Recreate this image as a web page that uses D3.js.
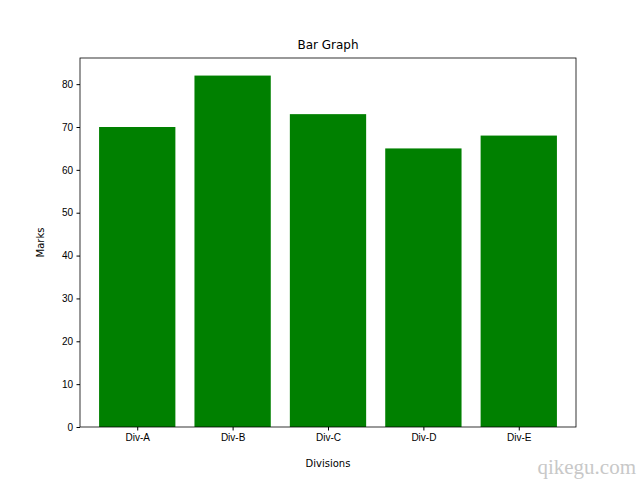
<!DOCTYPE html>
<html><head><meta charset="utf-8">
<script src="https://d3js.org/d3.v7.min.js"></script>
<style>body{margin:0;background:#fff}svg{font-family:"DejaVu Sans",sans-serif}</style>
</head><body>
<script>
const categories = ["Div-A","Div-B","Div-C","Div-D","Div-E"];
const marks = [70,82,73,65,68];
const yTicks = [0,10,20,30,40,50,60,70,80];

const W=640,H=480,L=80,R=576,T=58,B=427;
const svg=d3.select("body").append("svg").attr("width",W).attr("height",H);
const x=d3.scaleLinear().domain([-0.6,categories.length-0.4]).range([L,R]);
const y=d3.scaleLinear().domain([0,d3.max(marks)*1.05]).range([B,T]);

svg.selectAll("rect.bar").data(marks).enter().append("rect")
  .attr("x",(d,i)=>x(i-0.4)).attr("width",(d,i)=>x(i+0.4)-x(i-0.4))
  .attr("y",d=>y(d)).attr("height",d=>B-y(d)).attr("fill","#008000");

const ya=svg.append("g").attr("transform",`translate(${L},0)`)
  .call(d3.axisLeft(y).tickValues(yTicks).tickSize(3.5).tickPadding(3.5));
const xa=svg.append("g").attr("transform",`translate(0,${B})`)
  .call(d3.axisBottom(x).tickValues(d3.range(categories.length)).tickFormat(i=>categories[i]).tickSize(3.5).tickPadding(3.5));
[ya,xa].forEach(a=>{a.selectAll("text").attr("font-size",10).attr("fill","#000");a.select(".domain").remove();a.selectAll("line").attr("stroke","#000");});
svg.append("rect").attr("x",L).attr("y",T).attr("width",R-L).attr("height",B-T).attr("fill","none").attr("stroke","#000").attr("stroke-width",0.8);

svg.append("text").attr("x",(L+R)/2).attr("y",T-9).attr("text-anchor","middle").attr("font-size",12).text("Bar Graph");
svg.append("text").attr("x",(L+R)/2).attr("y",467).attr("text-anchor","middle").attr("font-size",10).text("Divisions");
svg.append("text").attr("transform",`translate(44,${(T+B)/2}) rotate(-90)`).attr("text-anchor","middle").attr("font-size",10).text("Marks");
svg.append("text").attr("x",636).attr("y",474).attr("text-anchor","end").attr("font-size",21).attr("fill","#c8c8c8").attr("font-family","Liberation Serif").text("qikegu.com");
</script>
</body></html>
